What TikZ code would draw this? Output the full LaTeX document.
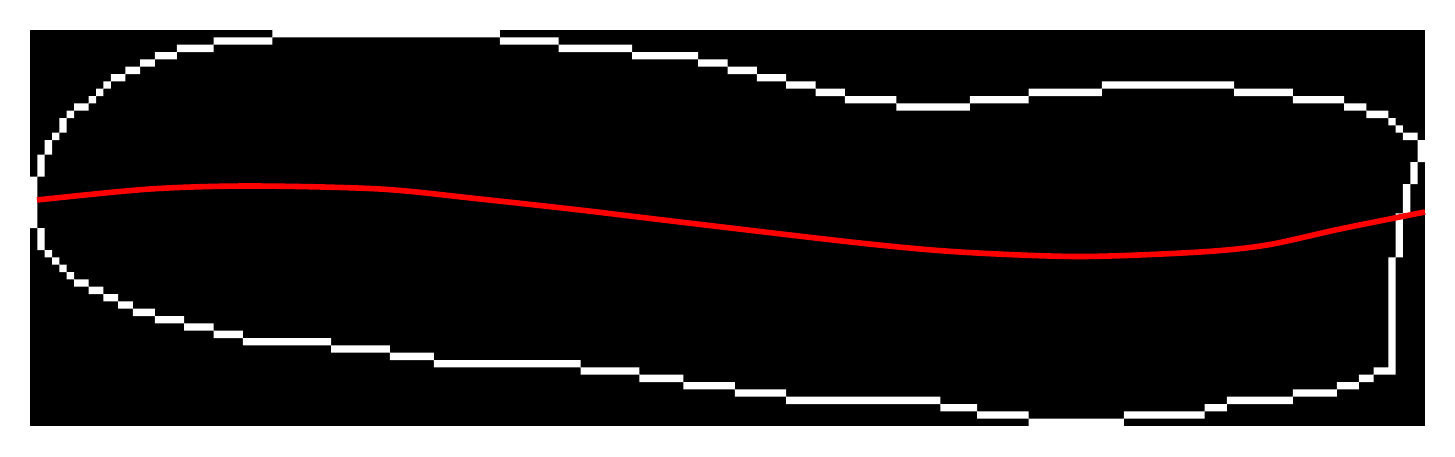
\documentclass[tikz,border=0pt]{standalone}
\usepackage{tikz}
\definecolor{spine}{RGB}{255,0,0}

\begin{document}
\begin{tikzpicture}[x=0.5pt,y=-0.5pt]
  \useasboundingbox (0,0) rectangle (1455,456);
  \fill[black] (30,30) rectangle (1425,426);
  % mask outline, one cell = one pixel of the mask
  \begin{scope}[shift={(30,30)},x=3.671pt,y=-3.6667pt]
    \fill[white]
      \foreach \r/\a/\b in {1/25/32,0/33/63,1/64/71,2/72/81,3/82/90,4/91/94,5/95/98,6/99/102,7/103/106,
        8/107/110,9/111/117,10/118/127,9/128/135,8/136/145,7/146/163,8/164/171,9/172/178,10/179/181,
        11/182/184,12/185/185,13/186/186,14/187/188,
        46/183/185,47/181/182,48/178/180,49/172/177,50/163/171,51/160/162,52/149/159,53/136/148,
        52/129/135,51/124/128,50/103/123,49/96/102,48/89/95,47/83/88,46/75/82,45/55/74,44/49/54,
        43/41/48,42/29/40,41/25/28,40/21/24,39/17/20,38/14/16,37/12/13,36/10/11,35/8/9,34/6/7,
        33/5/5,32/4/4,31/3/3,30/2/2,
        11/5/5,10/6/7,9/8/8,8/9/9,7/10/10,6/11/12,5/13/14,4/15/16,3/17/19,2/20/24}
        {(\a,\r) rectangle ({\b+1},{\r+1})}
      \foreach \c/\a/\b in {189/15/17,188/18/20,187/21/24,186/25/30,185/31/45,
        1/27/29,0/20/26,1/17/19,2/15/16,3/14/14,4/12/13}
        {(\c,\a) rectangle ({\c+1},{\b+1})};
  \end{scope}
  % fitted centre line
  \draw[spine,line width=2.8pt] plot[smooth,tension=0.5] coordinates {(37,200) (150,189) (250,186)
    (380,189) (480,199) (580,210) (680,222) (860,243) (960,252) (1080,256.5) (1200,252)
    (1267,245) (1340,229) (1425,212)};
\end{tikzpicture}
\end{document}
